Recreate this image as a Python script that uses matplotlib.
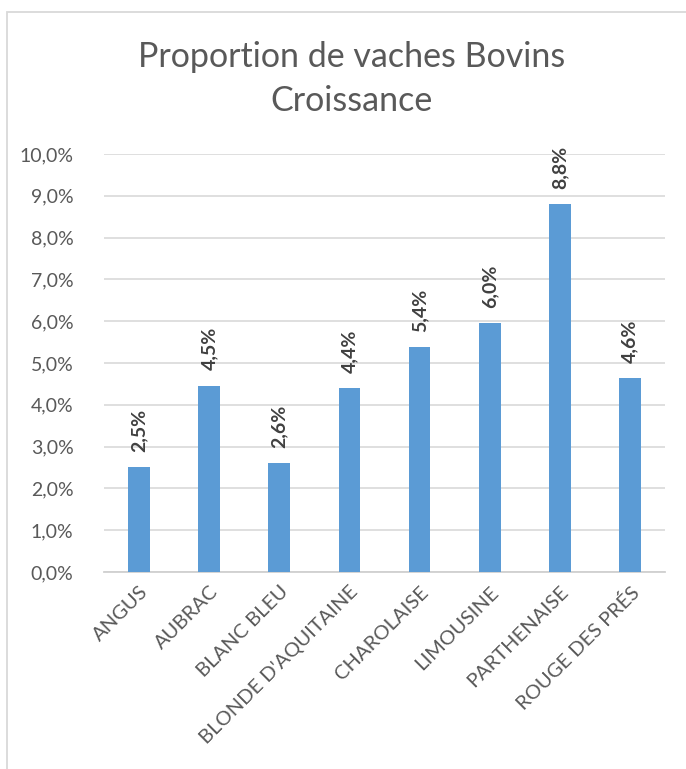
import matplotlib
matplotlib.use("Agg")
import matplotlib.pyplot as plt
from matplotlib.patches import Rectangle
from matplotlib.ticker import FuncFormatter

# data
races = ["ANGUS", "AUBRAC", "BLANC BLEU", "BLONDE D'AQUITAINE",
         "CHAROLAISE", "LIMOUSINE", "PARTHENAISE", "ROUGE DES PRÉS"]
proportions = [2.51, 4.46, 2.61, 4.40, 5.38, 5.96, 8.80, 4.63]
y_ticks = [0, 1, 2, 3, 4, 5, 6, 7, 8, 9, 10]

plt.rcParams['font.family'] = ['Lato', 'DejaVu Sans']

W, H = 686, 769
fig = plt.figure(figsize=(W / 100, H / 100), dpi=100)

# chart frame (Excel style border)
fig.patches.append(Rectangle((7 / W, -0.05), 1.0, 1 - 12 / H + 0.05,
                             transform=fig.transFigure, fill=False,
                             edgecolor='#D9D9D9', linewidth=1.3))

ax = fig.add_axes([104 / W, 1 - 572 / H, (665 - 104) / W, (572 - 154) / H])

x = range(len(races))
bars = ax.bar(x, proportions, width=0.31, color='#5B9BD5', zorder=3)

for b, v in zip(bars, proportions):
    ax.annotate(f"{v:.1f}%".replace('.', ','),
                (b.get_x() + b.get_width() / 2, b.get_height()),
                xytext=(0, 11), textcoords='offset points',
                rotation=90, ha='center', va='bottom',
                fontsize=14, fontweight='bold', color='#404040')

ax.set_ylim(0, 10)
ax.set_xlim(-0.5, len(races) - 0.5)
ax.set_yticks(y_ticks)
ax.yaxis.set_major_formatter(FuncFormatter(lambda v, p: f"{v:.1f}%".replace('.', ',')))
ax.grid(axis='y', color='#D9D9D9', linewidth=1.2, zorder=0)
ax.set_xticks(list(x))
ax.set_xticklabels(races, rotation=45, ha='right', rotation_mode='anchor')

for s in ['top', 'right', 'left']:
    ax.spines[s].set_visible(False)
ax.spines['bottom'].set_color('#D0D0D0')
ax.spines['bottom'].set_linewidth(1.3)
ax.tick_params(axis='y', length=0, labelsize=14, labelcolor='#595959', pad=22)
ax.tick_params(axis='x', length=0, labelsize=14.5, labelcolor='#595959', pad=8)

fig.text(352 / W, 1 - 79 / H, "Proportion de vaches Bovins\nCroissance",
         ha='center', va='center', fontsize=24.5, color='#595959',
         linespacing=1.45)

fig.savefig("out.png", dpi=100)
